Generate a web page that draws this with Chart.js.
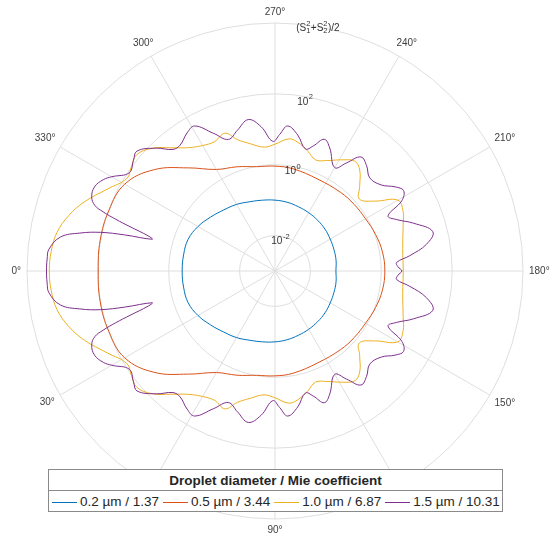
<!DOCTYPE html>
<html>
<head>
<meta charset="utf-8">
<script src="https://cdn.jsdelivr.net/npm/chart.js@4.4.1/dist/chart.umd.min.js"></script>
<style>
  body { margin: 0; background: #fff; }
  #wrap { position: relative; width: 550px; height: 543px; }
  #legend {
    position: absolute; left: 48px; top: 469px; width: 453px; height: 41px;
    border: 1px solid #8a8a8a; background: #fff;
    font-family: "Liberation Sans", Arial, sans-serif; color: #262626;
  }
  #legend .title {
    height: 20px; line-height: 21px; text-align: center; font-weight: bold; font-size: 13.5px;
    border-bottom: 1px solid #8a8a8a;
  }
  #legend .items { height: 20px; line-height: 21px; font-size: 13.5px; padding-left: 3px; white-space: nowrap; }
  #legend .item { display: inline-block; margin-right: 4px; }
  #legend .swatch { display: inline-block; width: 25px; height: 1px; vertical-align: middle; margin-right: 3px; }
</style>
</head>
<body>
<div id="wrap">
  <canvas id="myChart" width="550" height="543"></canvas>
  <div id="legend"></div>
</div>
<script>
// scattering angle (deg) and log10 of (S1^2+S2^2)/2, 0..180 (curve is mirrored)
let thetaBlue = [0,10,20,30,40,50,60,70,80,90,100,110,120,130,140,150,160,170,180];
let logBlue = [-0.38,-0.38,-0.39,-0.49,-0.63,-0.75,-0.83,-0.92,-0.97,-1.00,-1.03,-1.07,-1.10,-1.13,-1.16,-1.20,-1.23,-1.25,-1.28];

let thetaRed = [0,10,20,30,40,50,60,70,80,90,100,115,130,140,150,160,170,180];
let logRed = [1.99,2.01,1.99,1.90,1.45,0.80,0.31,0.13,-0.01,-0.04,-0.07,-0.14,-0.11,-0.08,-0.05,0.02,0.08,0.10];

let thetaYellow = [0,5,10,15,20,26,32,36,40,45,50,55,60,65,70,74,79,85,90,96,100,105,110,115,121,126,130,135,139.5,145,150,155,160,170,180];
let logYellow = [3.37,3.34,3.25,3.03,2.72,2.27,1.93,2.01,2.10,1.90,1.54,1.25,1.09,1.03,1.14,0.86,0.66,0.51,0.58,0.75,0.69,0.52,0.34,0.44,0.66,0.83,0.72,0.38,0.13,0.44,1.00,0.99,0.85,0.66,0.62];

let thetaPurple = [0,3,5.5,9,11,12.5,13.5,14.5,15.5,17,18,19,20,22,25,28,30,34,38,41,46,50,53,57.5,61,66,70.5,75,80,84.5,89,92,95,99.5,104,107,110.5,114,120,123.5,127,131,135.5,141,145,148,151,154,157,161,166,170,173.5,176,178,180];
let logPurple = [3.45,3.44,3.41,3.13,2.61,2.04,1.37,0.58,0.72,1.28,1.73,2.13,2.41,2.58,2.62,2.49,2.32,1.96,2.07,2.16,1.82,1.48,1.45,1.62,1.68,1.25,0.94,1.11,1.34,1.09,0.66,0.86,1.11,0.89,0.55,0.69,0.97,0.80,0.37,0.66,1.03,0.94,0.75,0.86,1.14,1.28,1.09,0.55,0.72,1.14,1.59,1.34,0.83,0.44,0.47,0.58];

let diameters = ['0.2', '0.5', '1.0', '1.5'];
let mieCoef = ['1.37', '3.44', '6.87', '10.31'];
let colors = ['#0072BD', '#D95319', '#EDB120', '#7E2F8E'];

// radial ticks (log10 exponents)
let rMin = -3, rMax = 4;
let tickValues = [-2, 0, 2, 4];

// angle grid: 0.5 deg per label, index 0 at top (270 deg), going clockwise
let step = 0.5;
let labels = [];
for (let i = 0; i < 360 / step; i++) {
    labels.push(((270 - i * step) % 360 + 360) % 360);
}
function idx(theta) {
    return Math.round((((270 - theta) % 360 + 360) % 360) / step);
}
function toRadar(thetas, vals) {
    let d = labels.map(() => null);
    for (let k = 0; k < thetas.length; k++) {
        d[idx(thetas[k])] = vals[k];
        d[idx(360 - thetas[k])] = vals[k];
    }
    return d;
}

let series = [[thetaBlue, logBlue], [thetaRed, logRed], [thetaYellow, logYellow], [thetaPurple, logPurple]];

// legend
let legend = document.getElementById('legend');
let html = '<div class="title">Droplet diameter / Mie coefficient</div><div class="items">';
for (let s = 0; s < diameters.length; s++) {
    html += '<span class="item"><span class="swatch" style="background:' + colors[s] + '"></span>' +
        diameters[s] + ' µm / ' + mieCoef[s] + '</span>';
}
legend.innerHTML = html + '</div>';

let big = '10px "Liberation Sans", Arial, sans-serif';
let small = '7.5px "Liberation Sans", Arial, sans-serif';

//angle labels, r tick labels and axis title
let polarLabels = {
    id: 'polarLabels',
    afterDraw(chart) {
        let sc = chart.scales.r;
        let ctx = chart.ctx;
        let outer = sc.getDistanceFromCenterForValue(rMax);
        ctx.save();
        ctx.fillStyle = '#404040';
        ctx.textBaseline = 'middle';
        ctx.textAlign = 'center';
        ctx.font = big;
        labels.forEach((lab, i) => {
            if (lab % 30 !== 0) return;
            let txt = lab + '°';
            let p = sc.getPointPosition(i, outer);
            let ux = (p.x - sc.xCenter) / outer, uy = (p.y - sc.yCenter) / outer;
            let w = ctx.measureText(txt).width, h = 10;
            let off = 6 + Math.abs(ux) * w / 2 + Math.abs(uy) * h / 2;
            ctx.fillText(txt, p.x + ux * off, p.y + uy * off);
        });

        // r tick labels along a ray 10 deg right of the top
        let a = 10 * Math.PI / 180;
        ctx.fillStyle = '#333';
        ctx.textAlign = 'left';
        tickValues.forEach(v => {
            if (v === rMax) return;
            let d = sc.getDistanceFromCenterForValue(v) - 5.5;
            let x = sc.xCenter + d * Math.sin(a);
            let y = sc.yCenter - d * Math.cos(a);
            ctx.font = big;
            let w1 = ctx.measureText('10').width;
            ctx.font = small;
            let w2 = ctx.measureText(String(v)).width;
            let x0 = x - (w1 + w2) / 2;
            ctx.font = big;
            ctx.fillText('10', x0, y);
            ctx.font = small;
            ctx.fillText(String(v), x0 + w1 + 0.5, y - 5);
        });
        // axis title (S1^2+S2^2)/2
        let d = outer - 1;
        let x = sc.xCenter + d * Math.sin(a);
        let y = sc.yCenter - d * Math.cos(a);
        let parts = [['(S', big, 0], ['2', small, -4, '1'], ['+S', big, 0], ['2', small, -4, '2'], [')/2', big, 0]];
        let total = 0;
        parts.forEach(p => { ctx.font = p[1]; total += ctx.measureText(p[0]).width + (p[1] === small ? 0.5 : 0); });
        let cx = x - total / 2;
        parts.forEach(p => {
            ctx.font = p[1];
            ctx.fillText(p[0], cx, y + p[2]);
            if (p[3]) ctx.fillText(p[3], cx, y + 3);
            cx += ctx.measureText(p[0]).width + (p[1] === small ? 0.5 : 0);
        });
        ctx.restore();
    }
};

let ctx = document.getElementById('myChart').getContext('2d');
let chart = new Chart(ctx, {
    type: 'radar',
    data: {
        labels: labels,
        datasets: series.map((s, k) => ({
            label: diameters[k] + ' µm / ' + mieCoef[k],
            data: toRadar(s[0], s[1]),
            borderColor: colors[k],
            backgroundColor: colors[k],
            borderWidth: 1,
            pointRadius: 0,
            pointHoverRadius: 0,
            fill: false,
            spanGaps: true,
            tension: 0.4,
            order: 3 - k
        }))
    },
    options: {
        responsive: false,
        animation: false,
        layout: { padding: { top: 23, bottom: 23, left: 26, right: 26 } },
        plugins: { legend: { display: false }, tooltip: { enabled: false } },
        scales: {
            r: {
                min: rMin,
                max: rMax,
                startAngle: 0,
                afterBuildTicks: (scale) => { scale.ticks = tickValues.map(v => ({ value: v })); },
                ticks: { display: false },
                grid: { circular: true, color: '#dedede', lineWidth: 1 },
                angleLines: {
                    color: (c) => labels[c.index] % 30 === 0 ? '#dedede' : 'rgba(0,0,0,0)',
                    lineWidth: (c) => labels[c.index] % 30 === 0 ? 1 : 0
                },
                pointLabels: { display: false }
            }
        }
    },
    plugins: [polarLabels]
});
</script>
</body>
</html>
